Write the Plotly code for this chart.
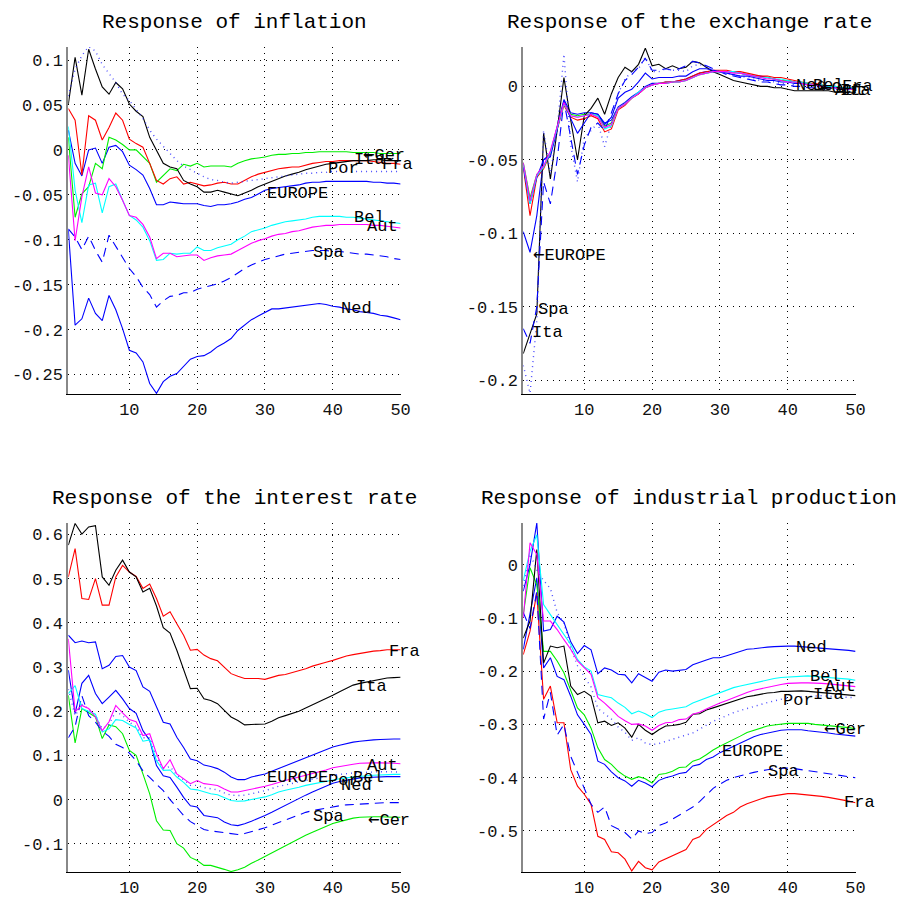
import plotly.graph_objects as go

periods = list(range(1, 51))
countries = ["EUROPE", "Ger", "Fra", "Ita", "Spa", "Por", "Ned", "Bel", "Aut"]

# ---------------- Response of inflation ----------------
infl_EUROPE = [0.022,-0.015,-0.029,0.000,0.002,-0.015,0.003,0.005,-0.002,-0.017,-0.022,-0.028,-0.043,-0.061,-0.061,-0.058,-0.059,-0.060,-0.060,-0.060,
               -0.062,-0.063,-0.061,-0.061,-0.060,-0.058,-0.055,-0.053,-0.049,-0.045,-0.043,-0.042,-0.041,-0.040,-0.039,-0.037,-0.036,-0.036,-0.035,-0.035,
               -0.035,-0.035,-0.035,-0.035,-0.035,-0.036,-0.036,-0.037,-0.037,-0.038]
infl_Ger = [0.014,-0.075,-0.049,-0.041,-0.015,-0.021,0.014,0.011,0.006,0.000,0.000,-0.007,-0.015,-0.036,-0.028,-0.021,-0.023,-0.016,-0.018,-0.015,
            -0.019,-0.018,-0.018,-0.018,-0.019,-0.015,-0.012,-0.010,-0.009,-0.008,-0.006,-0.005,-0.005,-0.004,-0.004,-0.003,-0.003,-0.002,-0.002,-0.002,
            -0.002,-0.002,-0.003,-0.003,-0.003,-0.003,-0.004,-0.004,-0.004,-0.004]
infl_Fra = [0.046,0.033,-0.028,0.038,0.033,0.011,0.025,0.041,0.033,0.012,0.007,0.003,-0.015,-0.034,-0.038,-0.032,-0.030,-0.038,-0.036,-0.038,
            -0.040,-0.039,-0.037,-0.036,-0.038,-0.038,-0.034,-0.030,-0.027,-0.025,-0.023,-0.021,-0.020,-0.019,-0.019,-0.017,-0.015,-0.014,-0.013,-0.013,
            -0.012,-0.012,-0.012,-0.012,-0.012,-0.013,-0.014,-0.015,-0.015,-0.016]
infl_Ita = [0.051,0.103,0.061,0.112,0.090,0.070,0.062,0.075,0.068,0.051,0.043,0.037,0.014,-0.001,-0.015,-0.019,-0.021,-0.034,-0.038,-0.041,
            -0.047,-0.047,-0.045,-0.047,-0.049,-0.051,-0.048,-0.045,-0.041,-0.038,-0.035,-0.032,-0.029,-0.027,-0.025,-0.022,-0.020,-0.018,-0.016,-0.015,
            -0.014,-0.013,-0.012,-0.012,-0.012,-0.011,-0.011,-0.012,-0.012,-0.012]
infl_Spa = [-0.088,-0.097,-0.111,-0.096,-0.112,-0.125,-0.095,-0.107,-0.119,-0.132,-0.141,-0.153,-0.161,-0.175,-0.168,-0.163,-0.162,-0.159,-0.159,-0.155,
            -0.153,-0.151,-0.149,-0.146,-0.142,-0.137,-0.132,-0.128,-0.125,-0.122,-0.120,-0.118,-0.116,-0.115,-0.114,-0.113,-0.112,-0.112,-0.112,-0.113,
            -0.113,-0.114,-0.115,-0.116,-0.116,-0.117,-0.118,-0.119,-0.121,-0.122]
infl_Por = [0.060,0.090,0.105,0.115,0.110,0.095,0.085,0.075,0.062,0.055,0.045,0.035,0.022,0.012,0.004,-0.004,-0.012,-0.018,-0.022,-0.026,
            -0.030,-0.033,-0.034,-0.036,-0.037,-0.036,-0.035,-0.034,-0.033,-0.032,-0.031,-0.030,-0.029,-0.028,-0.027,-0.026,-0.026,-0.025,-0.025,-0.024,
            -0.024,-0.024,-0.024,-0.024,-0.024,-0.024,-0.024,-0.024,-0.024,-0.024]
infl_Ned = [-0.089,-0.195,-0.188,-0.165,-0.182,-0.190,-0.162,-0.178,-0.199,-0.223,-0.226,-0.236,-0.260,-0.271,-0.258,-0.252,-0.249,-0.241,-0.233,-0.230,
            -0.229,-0.225,-0.219,-0.215,-0.210,-0.201,-0.195,-0.189,-0.185,-0.181,-0.177,-0.177,-0.176,-0.175,-0.174,-0.173,-0.172,-0.171,-0.172,-0.174,
            -0.175,-0.177,-0.178,-0.180,-0.181,-0.182,-0.184,-0.185,-0.187,-0.189]
infl_Bel = [0.026,-0.045,-0.081,-0.039,-0.037,-0.070,-0.041,-0.038,-0.056,-0.073,-0.078,-0.086,-0.101,-0.123,-0.122,-0.115,-0.116,-0.115,-0.115,-0.108,
            -0.112,-0.112,-0.109,-0.107,-0.105,-0.100,-0.096,-0.091,-0.089,-0.087,-0.084,-0.082,-0.080,-0.079,-0.078,-0.077,-0.075,-0.074,-0.074,-0.074,
            -0.074,-0.075,-0.075,-0.076,-0.077,-0.078,-0.079,-0.080,-0.081,-0.082]
infl_Aut = [-0.006,-0.101,-0.052,-0.019,-0.048,-0.050,-0.032,-0.041,-0.056,-0.073,-0.075,-0.083,-0.097,-0.121,-0.115,-0.115,-0.119,-0.118,-0.117,-0.117,
            -0.123,-0.120,-0.118,-0.117,-0.116,-0.112,-0.108,-0.104,-0.101,-0.099,-0.096,-0.094,-0.093,-0.091,-0.090,-0.088,-0.086,-0.085,-0.084,-0.084,
            -0.083,-0.083,-0.083,-0.083,-0.083,-0.084,-0.084,-0.085,-0.086,-0.087]

# ---------------- Response of the exchange rate ----------------
exch_EUROPE = [-0.099,-0.113,-0.088,-0.050,-0.046,-0.028,-0.009,-0.018,-0.019,-0.018,-0.018,-0.019,-0.025,-0.023,-0.014,-0.011,-0.007,-0.004,0.000,0.002,
               0.002,0.003,0.003,0.004,0.005,0.007,0.009,0.010,0.010,0.010,0.010,0.010,0.009,0.008,0.007,0.007,0.006,0.005,0.004,0.004,
               0.003,0.002,0.002,0.001,0.000,0.000,-0.001,-0.001,-0.001,-0.001]
exch_Ger = [-0.052,-0.076,-0.060,-0.055,-0.045,-0.028,-0.011,-0.019,-0.020,-0.019,-0.019,-0.020,-0.027,-0.025,-0.015,-0.012,-0.008,-0.005,-0.001,0.001,
            0.002,0.002,0.003,0.003,0.004,0.006,0.008,0.009,0.010,0.010,0.010,0.010,0.009,0.008,0.007,0.006,0.006,0.005,0.004,0.004,
            0.003,0.002,0.002,0.001,0.000,0.000,-0.001,-0.001,-0.001,-0.002]
exch_Fra = [-0.055,-0.088,-0.062,-0.056,-0.046,-0.029,-0.013,-0.021,-0.023,-0.022,-0.020,-0.022,-0.031,-0.029,-0.016,-0.013,-0.008,-0.005,-0.001,0.001,
            0.002,0.003,0.003,0.004,0.005,0.007,0.009,0.010,0.011,0.011,0.011,0.010,0.010,0.009,0.008,0.007,0.007,0.006,0.006,0.005,
            0.004,0.003,0.002,0.002,0.001,0.000,0.000,-0.001,-0.001,-0.001]
exch_Ita = [-0.182,-0.169,-0.155,-0.032,-0.063,-0.030,0.006,-0.023,-0.050,-0.020,-0.015,-0.008,-0.019,-0.005,0.006,0.013,0.010,0.015,0.026,0.014,
            0.015,0.012,0.014,0.012,0.013,0.017,0.016,0.013,0.010,0.008,0.006,0.004,0.003,0.002,0.001,0.000,0.000,-0.001,-0.001,-0.002,
            -0.003,-0.003,-0.003,-0.003,-0.003,-0.003,-0.004,-0.004,-0.004,-0.004]
exch_Spa = [-0.165,-0.175,-0.150,-0.065,-0.080,-0.050,-0.010,-0.035,-0.060,-0.040,-0.028,-0.025,-0.030,-0.018,-0.005,0.004,0.008,0.013,0.019,0.011,
            0.011,0.012,0.011,0.012,0.014,0.017,0.016,0.014,0.012,0.010,0.008,0.007,0.006,0.005,0.004,0.003,0.003,0.002,0.001,0.001,
            0.000,0.000,-0.001,-0.001,-0.001,-0.002,-0.002,-0.002,-0.002,-0.002]
exch_Por = [-0.190,-0.209,-0.160,-0.030,-0.060,-0.030,0.022,-0.040,-0.065,-0.035,-0.030,-0.025,-0.041,-0.025,-0.005,0.005,0.010,0.012,0.020,0.010,
            0.010,0.012,0.011,0.011,0.010,0.014,0.015,0.013,0.011,0.010,0.009,0.008,0.007,0.006,0.005,0.004,0.004,0.003,0.002,0.002,
            0.001,0.001,0.000,0.000,-0.001,-0.001,-0.001,-0.002,-0.002,-0.002]
exch_Ned = [-0.055,-0.080,-0.062,-0.050,-0.048,-0.030,-0.010,-0.022,-0.032,-0.025,-0.018,-0.019,-0.026,-0.021,-0.008,-0.004,-0.002,0.003,0.009,0.005,
            0.006,0.006,0.006,0.007,0.007,0.010,0.012,0.012,0.011,0.010,0.009,0.008,0.007,0.007,0.006,0.005,0.004,0.004,0.003,0.003,
            0.002,0.002,0.001,0.001,0.000,0.000,-0.001,-0.001,-0.001,-0.002]
exch_Bel = [-0.053,-0.080,-0.061,-0.055,-0.045,-0.028,-0.012,-0.020,-0.021,-0.020,-0.019,-0.020,-0.029,-0.027,-0.015,-0.012,-0.008,-0.004,-0.001,0.001,
            0.002,0.002,0.003,0.003,0.004,0.006,0.008,0.009,0.010,0.010,0.010,0.010,0.009,0.008,0.007,0.006,0.006,0.005,0.005,0.004,
            0.003,0.003,0.002,0.001,0.001,0.000,0.000,-0.001,-0.001,-0.001]
exch_Aut = [-0.052,-0.078,-0.060,-0.054,-0.044,-0.028,-0.011,-0.020,-0.021,-0.020,-0.019,-0.021,-0.028,-0.026,-0.015,-0.012,-0.008,-0.005,-0.001,0.001,
            0.002,0.002,0.003,0.003,0.004,0.006,0.008,0.009,0.010,0.010,0.010,0.009,0.009,0.008,0.007,0.006,0.005,0.005,0.004,0.003,
            0.003,0.002,0.001,0.001,0.000,-0.001,-0.001,-0.002,-0.002,-0.002]

# ---------------- Response of the interest rate ----------------
int_EUROPE = [0.372,0.355,0.359,0.355,0.357,0.296,0.304,0.324,0.326,0.300,0.292,0.255,0.245,0.209,0.175,0.171,0.141,0.118,0.092,0.088,
              0.078,0.075,0.070,0.062,0.051,0.045,0.045,0.051,0.054,0.058,0.064,0.070,0.076,0.082,0.088,0.094,0.100,0.107,0.113,0.119,
              0.123,0.127,0.130,0.132,0.134,0.135,0.136,0.137,0.137,0.137]
int_Ger = [0.236,0.128,0.206,0.196,0.187,0.138,0.169,0.165,0.149,0.111,0.100,0.058,0.013,-0.048,-0.069,-0.070,-0.100,-0.110,-0.131,-0.138,
           -0.149,-0.149,-0.153,-0.158,-0.163,-0.159,-0.153,-0.144,-0.137,-0.129,-0.120,-0.112,-0.104,-0.097,-0.089,-0.081,-0.074,-0.067,-0.060,-0.054,
           -0.050,-0.046,-0.042,-0.040,-0.039,-0.039,-0.039,-0.040,-0.040,-0.040]
int_Fra = [0.504,0.568,0.455,0.453,0.500,0.440,0.440,0.504,0.530,0.515,0.505,0.478,0.488,0.455,0.415,0.425,0.398,0.372,0.338,0.340,
           0.327,0.319,0.314,0.300,0.285,0.279,0.274,0.274,0.274,0.272,0.276,0.281,0.283,0.287,0.291,0.296,0.302,0.307,0.311,0.315,
           0.320,0.325,0.328,0.331,0.334,0.336,0.337,0.339,0.339,0.339]
int_Ita = [0.576,0.625,0.601,0.617,0.620,0.504,0.485,0.519,0.542,0.515,0.504,0.470,0.478,0.438,0.389,0.377,0.338,0.296,0.251,0.252,
           0.228,0.224,0.217,0.202,0.187,0.179,0.169,0.170,0.170,0.171,0.177,0.185,0.190,0.195,0.200,0.207,0.214,0.221,0.229,0.236,
           0.244,0.252,0.259,0.263,0.266,0.270,0.273,0.275,0.276,0.277]
int_Spa = [0.140,0.165,0.235,0.190,0.175,0.155,0.143,0.125,0.118,0.105,0.088,0.065,0.050,0.035,0.020,0.000,-0.017,-0.036,-0.050,-0.060,
           -0.068,-0.071,-0.073,-0.076,-0.078,-0.079,-0.077,-0.073,-0.069,-0.064,-0.058,-0.052,-0.046,-0.040,-0.034,-0.029,-0.025,-0.022,-0.019,-0.016,
           -0.014,-0.012,-0.011,-0.010,-0.009,-0.008,-0.008,-0.007,-0.007,-0.007]
int_Por = [0.250,0.190,0.215,0.205,0.190,0.160,0.170,0.200,0.190,0.175,0.165,0.140,0.140,0.095,0.070,0.075,0.055,0.045,0.032,0.032,
           0.027,0.025,0.022,0.015,0.010,0.009,0.010,0.013,0.016,0.020,0.025,0.030,0.033,0.037,0.040,0.043,0.046,0.050,0.052,0.055,
           0.057,0.059,0.060,0.061,0.062,0.062,0.063,0.063,0.063,0.062]
int_Ned = [0.293,0.195,0.263,0.281,0.240,0.217,0.232,0.247,0.228,0.206,0.195,0.156,0.134,0.077,0.054,0.050,0.028,0.005,-0.014,-0.017,
           -0.036,-0.039,-0.041,-0.051,-0.057,-0.059,-0.055,-0.049,-0.043,-0.036,-0.029,-0.021,-0.013,-0.005,0.002,0.010,0.017,0.024,0.031,0.037,
           0.041,0.044,0.047,0.049,0.050,0.051,0.052,0.052,0.052,0.052]
int_Bel = [0.240,0.258,0.206,0.199,0.193,0.153,0.160,0.181,0.179,0.170,0.162,0.132,0.135,0.088,0.066,0.067,0.051,0.039,0.024,0.022,
           0.017,0.013,0.011,0.004,-0.002,-0.004,-0.003,0.000,0.003,0.006,0.011,0.017,0.021,0.024,0.028,0.032,0.035,0.039,0.042,0.045,
           0.047,0.049,0.051,0.053,0.054,0.055,0.056,0.057,0.057,0.057]
int_Aut = [0.364,0.199,0.213,0.206,0.187,0.156,0.176,0.213,0.196,0.181,0.176,0.145,0.149,0.104,0.070,0.090,0.058,0.047,0.036,0.043,
           0.036,0.034,0.032,0.024,0.017,0.017,0.020,0.024,0.027,0.030,0.034,0.039,0.043,0.047,0.051,0.055,0.058,0.062,0.067,0.072,
           0.075,0.078,0.080,0.082,0.083,0.083,0.083,0.083,0.082,0.081]

# ---------------- Response of industrial production ----------------
ip_EUROPE = [-0.159,-0.090,-0.025,-0.194,-0.175,-0.210,-0.216,-0.247,-0.282,-0.300,-0.319,-0.369,-0.375,-0.389,-0.400,-0.406,-0.416,-0.405,-0.410,-0.417,
             -0.405,-0.400,-0.397,-0.392,-0.390,-0.378,-0.375,-0.366,-0.361,-0.353,-0.347,-0.341,-0.335,-0.328,-0.323,-0.319,-0.316,-0.313,-0.311,-0.310,
             -0.310,-0.310,-0.312,-0.313,-0.315,-0.316,-0.318,-0.319,-0.321,-0.322]
ip_Ger = [-0.094,-0.006,-0.038,-0.163,-0.163,-0.181,-0.203,-0.235,-0.269,-0.282,-0.307,-0.344,-0.366,-0.375,-0.388,-0.397,-0.403,-0.398,-0.402,-0.410,
          -0.394,-0.392,-0.388,-0.381,-0.380,-0.369,-0.365,-0.357,-0.348,-0.341,-0.335,-0.328,-0.322,-0.315,-0.311,-0.306,-0.303,-0.301,-0.299,-0.298,
          -0.298,-0.298,-0.298,-0.300,-0.301,-0.302,-0.303,-0.305,-0.306,-0.308]
ip_Fra = [-0.169,-0.125,-0.053,-0.253,-0.228,-0.297,-0.297,-0.385,-0.416,-0.431,-0.450,-0.510,-0.516,-0.539,-0.541,-0.553,-0.575,-0.557,-0.569,-0.573,
          -0.558,-0.552,-0.547,-0.540,-0.535,-0.516,-0.511,-0.497,-0.488,-0.480,-0.471,-0.465,-0.455,-0.449,-0.444,-0.440,-0.436,-0.434,-0.432,-0.430,
          -0.430,-0.431,-0.432,-0.433,-0.435,-0.437,-0.439,-0.442,-0.444,-0.447]
ip_Ita = [-0.138,-0.106,0.028,-0.185,-0.153,-0.156,-0.153,-0.228,-0.244,-0.238,-0.247,-0.297,-0.294,-0.302,-0.297,-0.307,-0.324,-0.300,-0.311,-0.319,
          -0.310,-0.303,-0.302,-0.300,-0.296,-0.281,-0.280,-0.273,-0.269,-0.265,-0.261,-0.257,-0.253,-0.248,-0.246,-0.243,-0.241,-0.240,-0.238,-0.238,
          -0.237,-0.237,-0.238,-0.239,-0.240,-0.241,-0.242,-0.243,-0.245,-0.246]
ip_Spa = [-0.090,-0.120,-0.050,-0.290,-0.240,-0.320,-0.300,-0.360,-0.390,-0.420,-0.450,-0.465,-0.455,-0.490,-0.497,-0.503,-0.515,-0.500,-0.505,-0.503,
          -0.490,-0.485,-0.478,-0.470,-0.463,-0.455,-0.445,-0.432,-0.420,-0.412,-0.405,-0.400,-0.396,-0.393,-0.390,-0.387,-0.385,-0.383,-0.382,-0.382,
          -0.383,-0.385,-0.387,-0.389,-0.391,-0.393,-0.395,-0.397,-0.398,-0.400]
ip_Por = [-0.040,0.020,-0.010,-0.030,-0.045,-0.090,-0.110,-0.155,-0.190,-0.210,-0.230,-0.270,-0.280,-0.290,-0.305,-0.315,-0.330,-0.325,-0.335,-0.338,
          -0.336,-0.332,-0.329,-0.325,-0.320,-0.316,-0.309,-0.301,-0.294,-0.289,-0.283,-0.278,-0.274,-0.270,-0.266,-0.263,-0.259,-0.256,-0.253,-0.250,
          -0.249,-0.248,-0.247,-0.246,-0.246,-0.247,-0.248,-0.249,-0.250,-0.250]
ip_Ned = [-0.050,0.000,0.078,-0.125,-0.122,-0.097,-0.108,-0.145,-0.167,-0.152,-0.160,-0.205,-0.194,-0.198,-0.206,-0.207,-0.222,-0.205,-0.212,-0.219,
          -0.202,-0.198,-0.200,-0.199,-0.197,-0.188,-0.183,-0.179,-0.175,-0.175,-0.171,-0.167,-0.163,-0.159,-0.158,-0.156,-0.155,-0.154,-0.153,-0.153,
          -0.153,-0.154,-0.154,-0.155,-0.156,-0.157,-0.158,-0.159,-0.161,-0.163]
ip_Bel = [-0.030,0.025,0.056,-0.075,-0.094,-0.113,-0.131,-0.150,-0.178,-0.192,-0.200,-0.244,-0.247,-0.250,-0.260,-0.268,-0.280,-0.275,-0.280,-0.287,
          -0.277,-0.273,-0.271,-0.269,-0.267,-0.260,-0.255,-0.250,-0.245,-0.241,-0.236,-0.231,-0.228,-0.225,-0.222,-0.219,-0.216,-0.214,-0.212,-0.211,
          -0.210,-0.209,-0.209,-0.210,-0.211,-0.211,-0.212,-0.213,-0.215,-0.217]
ip_Aut = [-0.100,0.041,0.019,-0.106,-0.106,-0.122,-0.141,-0.159,-0.181,-0.194,-0.206,-0.250,-0.260,-0.272,-0.285,-0.293,-0.300,-0.299,-0.303,-0.311,
          -0.302,-0.297,-0.296,-0.291,-0.290,-0.281,-0.277,-0.271,-0.265,-0.260,-0.255,-0.250,-0.244,-0.240,-0.236,-0.233,-0.230,-0.227,-0.225,-0.223,
          -0.222,-0.222,-0.222,-0.222,-0.223,-0.224,-0.225,-0.226,-0.228,-0.229]

titles = ["Response of inflation", "Response of the exchange rate",
          "Response of the interest rate", "Response of industrial production"]

x_ticks = [10, 20, 30, 40, 50]
infl_ticks = [0.1, 0.05, 0, -0.05, -0.1, -0.15, -0.2, -0.25]
exch_ticks = [0, -0.05, -0.1, -0.15, -0.2]
int_ticks = [0.6, 0.5, 0.4, 0.3, 0.2, 0.1, 0, -0.1]
ip_ticks = [0, -0.1, -0.2, -0.3, -0.4, -0.5]

panels = [
    dict(series=dict(EUROPE=infl_EUROPE, Ger=infl_Ger, Fra=infl_Fra, Ita=infl_Ita, Spa=infl_Spa,
                     Por=infl_Por, Ned=infl_Ned, Bel=infl_Bel, Aut=infl_Aut), ticks=infl_ticks),
    dict(series=dict(EUROPE=exch_EUROPE, Ger=exch_Ger, Fra=exch_Fra, Ita=exch_Ita, Spa=exch_Spa,
                     Por=exch_Por, Ned=exch_Ned, Bel=exch_Bel, Aut=exch_Aut), ticks=exch_ticks),
    dict(series=dict(EUROPE=int_EUROPE, Ger=int_Ger, Fra=int_Fra, Ita=int_Ita, Spa=int_Spa,
                     Por=int_Por, Ned=int_Ned, Bel=int_Bel, Aut=int_Aut), ticks=int_ticks),
    dict(series=dict(EUROPE=ip_EUROPE, Ger=ip_Ger, Fra=ip_Fra, Ita=ip_Ita, Spa=ip_Spa,
                     Por=ip_Por, Ned=ip_Ned, Bel=ip_Bel, Aut=ip_Aut), ticks=ip_ticks),
]

ARROW = '<span style="font-family:DejaVu Sans Mono;font-size:19px">\u2190</span>'

# label placement (left edge x, vertical centre y) per panel
label_pos = [
    [(ARROW + "Ger", 44.3, -0.004), ("Ita", 43.0, -0.011), ("Fra", 47.1, -0.016), ("Por", 39.1, -0.021),
     ("EUROPE", 30.1, -0.048), ("Bel", 43.0, -0.075), ("Aut", 44.9, -0.085), ("Spa", 36.9, -0.114),
     ("Ned", 41.0, -0.176)],
    [("Ned", 41.0, 0.0008), ("Bel", 43.6, 0.0008), (ARROW + "Ger", 44.6, 0.0002), ("Fra", 47.9, 0.0),
     ("Aut", 46.8, -0.0025), ("Ita", 47.6, -0.003),
     (ARROW + "EUROPE", 2.3, -0.1138), ("Spa", 3.0, -0.152), ("Ita", 2.15, -0.1676), ("Por", 2.3, -0.2105)],
    [("Fra", 48.1, 0.336), ("Ita", 43.2, 0.255), ("Aut", 44.9, 0.077), ("EUROPE", 30.1, 0.051),
     ("Por", 39.1, 0.044), ("Bel", 42.8, 0.050), ("Ned", 41.0, 0.032), ("Spa", 36.9, -0.039),
     (ARROW + "Ger", 45.1, -0.044)],
    [("Ned", 41.0, -0.156), ("Bel", 43.1, -0.211), ("Aut", 45.3, -0.229), ("Ita", 43.6, -0.244),
     ("Por", 39.2, -0.255), (ARROW + "Ger", 45.2, -0.306), ("EUROPE", 30.1, -0.350), ("Spa", 36.9, -0.388),
     ("Fra", 48.1, -0.447)],
]

styles = {
    "EUROPE": dict(color="#0000ff", dash="solid", width=1.1),
    "Ger": dict(color="#00ee00", dash="solid", width=1.1),
    "Fra": dict(color="#ff0000", dash="solid", width=1.1),
    "Ita": dict(color="#000000", dash="solid", width=1.1),
    "Spa": dict(color="#0000ff", dash="9px,6px", width=1.1),
    "Por": dict(color="rgba(30,30,255,0.8)", dash="1px,4px", width=1.4),
    "Ned": dict(color="#0000ff", dash="solid", width=1.1),
    "Bel": dict(color="#00ffff", dash="solid", width=1.1),
    "Aut": dict(color="#ff00ff", dash="solid", width=1.1),
}

# page body has an 8px margin, so the figure sits 8px right/down of the window corner
OFF = 8
W, H = 914 - OFF, 901 - OFF
# axis boxes in window pixels: (left, right, top, bottom)
boxes_win = [(69, 405, 47, 394), (529, 865, 47, 394), (69, 405, 523, 872), (529, 865, 523, 872)]
boxes = [(l - OFF, r - OFF, t - OFF, b - OFF) for (l, r, t, b) in boxes_win]
y_ranges = [(-0.2717, 0.1145), (-0.2095, 0.0268), (-0.1640, 0.626), (-0.577, 0.078)]

font_family = "Liberation Mono, DejaVu Sans Mono, monospace"

def fmt(v):
    return "%g" % v

fig = go.Figure()
layout = dict(width=W, height=H, margin=dict(l=0, r=0, t=0, b=0),
              paper_bgcolor="white", plot_bgcolor="white", showlegend=False,
              font=dict(family=font_family, color="black", size=17))
annotations = []

for i, p in enumerate(panels):
    n = "" if i == 0 else str(i + 1)
    xa, ya = "x" + n, "y" + n
    for name in countries:
        st = styles[name]
        fig.add_trace(go.Scatter(x=periods, y=p["series"][name], mode="lines", name=name,
                                 xaxis=xa, yaxis=ya, hoverinfo="skip",
                                 line=dict(color=st["color"], dash=st["dash"], width=st["width"])))
    l, r, t, b = boxes[i]
    layout["xaxis" + n] = dict(domain=[l / W, r / W], anchor=ya, range=[1, 50],
                               tickvals=x_ticks, ticktext=[str(v) for v in x_ticks],
                               showgrid=True, gridcolor="black", griddash="1px,5px", gridwidth=1,
                               showline=True, linecolor="black", linewidth=1, zeroline=False,
                               ticks="", tickfont=dict(size=17, family=font_family, color="#111"))
    layout["yaxis" + n] = dict(domain=[1 - b / H, 1 - t / H], anchor=xa, range=list(y_ranges[i]),
                               tickvals=p["ticks"], ticktext=[fmt(v) for v in p["ticks"]],
                               showgrid=True, gridcolor="black", griddash="1px,5px", gridwidth=1,
                               showline=True, linecolor="#888888", linewidth=2, zeroline=False,
                               ticks="", tickfont=dict(size=17, family=font_family, color="#111"))
    annotations.append(dict(text=titles[i], xref="paper", yref="paper",
                            x=(l + r) / 2 / W, y=1 - (t - 25) / H, xanchor="center", yanchor="middle",
                            showarrow=False, font=dict(size=21, family=font_family, color="black")))
    for txt, lx, ly in label_pos[i]:
        annotations.append(dict(text=txt, xref=xa, yref=ya, x=lx, y=ly, xanchor="left", yanchor="middle",
                                showarrow=False, borderpad=0,
                                font=dict(size=17, family=font_family, color="black")))

layout["annotations"] = annotations
fig.update_layout(**layout)
fig.write_html("out.html")
